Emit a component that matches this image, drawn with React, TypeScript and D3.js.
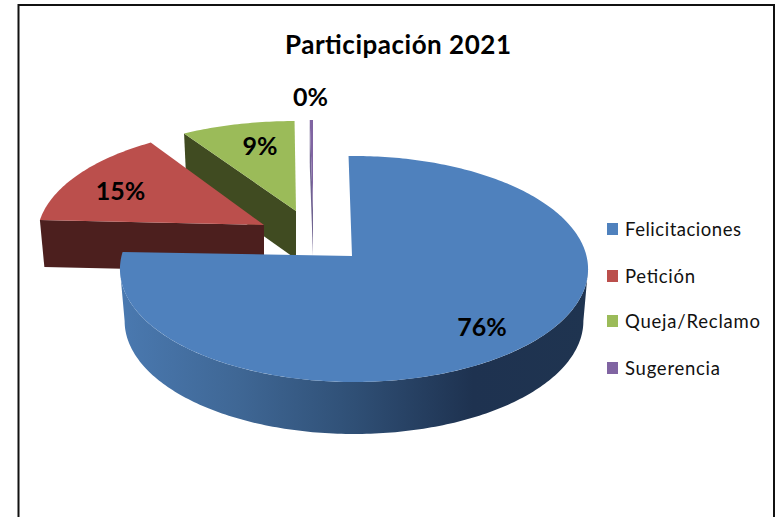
import React from "react";
import * as d3 from "d3";

const categories = ["Felicitaciones", "Petición", "Queja/Reclamo", "Sugerencia"];
const values = [76, 15, 8.75, 0.25];
const labels = ["76%", "15%", "9%", "0%"];
const colors = ["#4f81bd", "#bb4f4c", "#9bbb59", "#8064a2"];
const wallColors = ["url(#blueWall)", "#4c1f1e", "#404b21", "#6f6390"];
const legendTops = [223, 270, 315, 362];
const legendWidths = [116, 70, 135, 95];

const W = 780, H = 517;
const R = 232.5, S = 111.5, T = 0.115;
const DEG = Math.PI / 180;

// exploded-slice layout: apex, rim shift, scale, depth, label position factor
const layout = [
  { ax: 352, ay: 256, ox: 2, sx: 1, sy: 1, rot: -0.5, depth: 52, lx: 0.73, ly: 0.82 },
  { ax: 264, ay: 225, ox: 0, sx: 0.97, sy: 0.97, rot: 0, depth: 47, lx: 0.75, ly: 0.65 },
  { ax: 296, ay: 211, ox: 0, sx: 1, sy: 0.9, rot: 1.5, depth: 48, lx: 0.62, ly: 0.67 },
  { ax: 313, ay: 210, ox: 0, sx: 1, sy: 0.9, rot: 1, depth: 46, lx: 1.6, ly: 1.13 },
];

const project = (a: number) => {
  const u = Math.sin(a), v = Math.cos(a), w = 1 + T * v;
  return [(R * u) / w, (-S * v) / w];
};

const pie = d3.pie<number>().sort(null).startAngle(-1 * DEG).endAngle(359 * DEG);
const arcs = pie(values);

// angle at which the projected rim is widest: the side wall ends there
const tangent = Math.acos(-T);

const slices = arcs.map((d, i) => {
  const L = layout[i];
  const a0 = d.startAngle + L.rot * DEG;
  const a1 = d.endAngle + L.rot * DEG;
  const n = Math.max(2, Math.ceil((a1 - a0) / (1 * DEG)));
  const angles = d3.range(n + 1).map((k) => a0 + ((a1 - a0) * k) / n);
  const top = (a: number): [number, number] => {
    const [x, y] = project(a);
    return [L.ax + L.ox + x * L.sx, L.ay + y * L.sy];
  };
  const bot = (a: number): [number, number] => {
    const [x, y] = project(a);
    return [L.ax + L.ox + x * L.sx * 0.98, L.ay + y * L.sy + L.depth];
  };
  const apex: [number, number] = [L.ax, L.ay];
  const apexB: [number, number] = [L.ax, L.ay + L.depth];
  const line = d3.line().curve(d3.curveLinear);
  const topPath = line([apex, ...angles.map(top)]) + "Z";
  const mid = (a0 + a1) / 2;
  const [mx, my] = project(mid);
  const labelX = L.ax + mx * L.lx;
  const labelY = L.ay + my * L.ly;
  let wall: string;
  if (i === 0) {
    const rimAngles = d3.range(0, 181).map((k) => tangent + ((2 * Math.PI - 2 * tangent) * k) / 180);
    wall = line([...rimAngles.map(top), ...rimAngles.slice().reverse().map(bot)]) + "Z";
  } else {
    wall = line([top(a0), apex, apexB, bot(a0)]) + "Z";
  }
  return { i, topPath, wall, labelX, labelY };
});

const order = [3, 2, 1, 0];
const FONT = "Lato, 'Open Sans', sans-serif";

export default function App() {
  return (
    <svg
      width={W}
      height={H}
      viewBox={`0 0 ${W} ${H}`}
      style={{ position: "absolute", left: 0, top: 0, display: "block", background: "#fff" }}
    >
      <defs>
        <linearGradient id="blueWall" gradientUnits="userSpaceOnUse" x1={120} x2={590} y1={0} y2={0}>
          <stop offset="0" stopColor="#4a79b0" />
          <stop offset="0.25" stopColor="#3f6795" />
          <stop offset="0.5" stopColor="#2f4f75" />
          <stop offset="0.75" stopColor="#1e3250" />
          <stop offset="1" stopColor="#1f3450" />
        </linearGradient>
      </defs>
      <rect x={18.5} y={5} width={755.5} height={530} fill="#fff" stroke="#111" strokeWidth={2} />
      <text
        x={398}
        y={54}
        textAnchor="middle"
        fontFamily={FONT}
        fontWeight={700}
        fontSize={26}
        textLength={226}
        lengthAdjust="spacing"
        fill="#000"
      >
        Participación 2021
      </text>
      {order.map((k) => (
        <g key={k}>
          <path d={slices[k].wall} fill={wallColors[k]} />
          <path d={slices[k].topPath} fill={colors[k]} />
        </g>
      ))}
      {slices.map((s) => (
        <text
          key={s.i}
          x={s.labelX}
          y={s.labelY + 9}
          textAnchor="middle"
          fontFamily={FONT}
          fontWeight={700}
          fontSize={25}
          fill="#000"
        >
          {labels[s.i]}
        </text>
      ))}
      {categories.map((c, i) => (
        <g key={c}>
          <rect x={607} y={legendTops[i]} width={11} height={12} fill={colors[i]} />
          <text
            x={625}
            y={legendTops[i] + 13}
            fontFamily={FONT}
            fontSize={18.5}
            textLength={legendWidths[i]}
            lengthAdjust="spacing"
            fill="#111"
          >
            {c}
          </text>
        </g>
      ))}
    </svg>
  );
}
